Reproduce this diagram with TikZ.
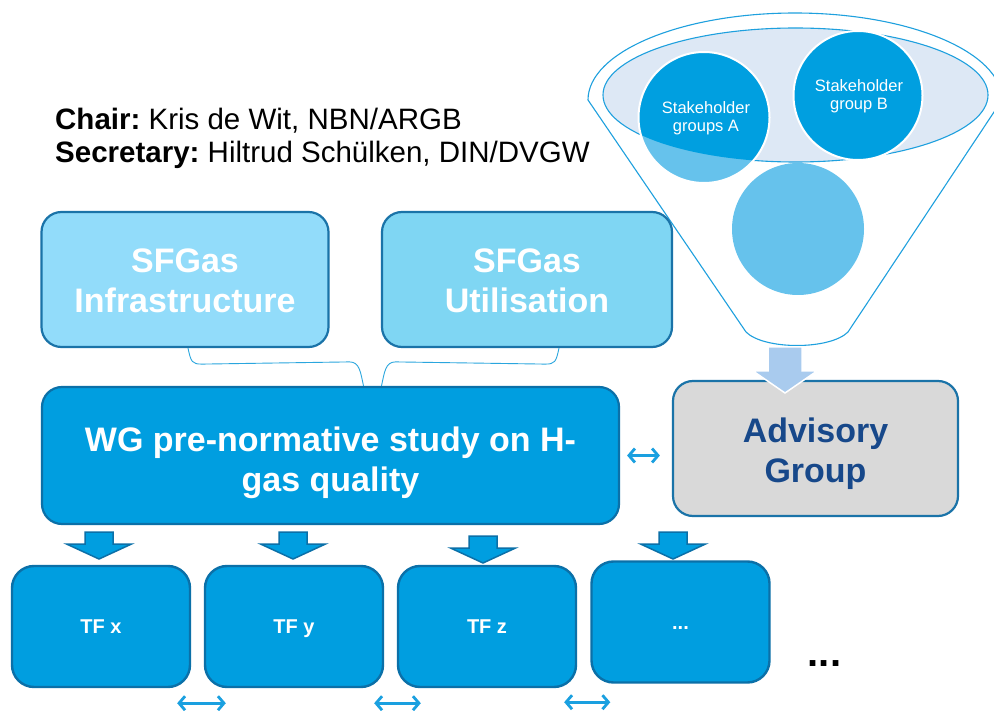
\documentclass[tikz,border=0pt]{standalone}
\usepackage{fontspec}
\setmainfont{Liberation Sans}
\usetikzlibrary{arrows.meta,calc}
\definecolor{infrafill}{HTML}{92DCFA}
\definecolor{utilfill}{HTML}{7FD6F3}
\definecolor{boxedge}{HTML}{1A73A8}
\definecolor{wgfill}{HTML}{009EE0}
\definecolor{wgedge}{HTML}{0B70A8}
\definecolor{advfill}{HTML}{D9D9D9}
\definecolor{advtext}{HTML}{17488A}
\definecolor{funnelc}{HTML}{1EA0DE}
\definecolor{ellfill}{HTML}{DDE8F5}
\definecolor{circdark}{HTML}{009FE0}
\definecolor{circlight}{HTML}{66C2EC}
\definecolor{arrowlight}{HTML}{A9CBEE}
\definecolor{dblc}{HTML}{1AA0E0}
\definecolor{connc}{HTML}{2AA6DE}
\frenchspacing
\begin{document}
\begin{tikzpicture}[x=1pt,y=-1pt,
  box/.style={draw=boxedge, line width=2.2pt, rounded corners=20pt, inner sep=0pt},
  boxtext/.style={inner sep=0pt, align=center, text=white, font=\bfseries\fontsize{34}{40}\selectfont},
  tfbox/.style={draw=wgedge, fill=wgfill, line width=2.4pt, rounded corners=22pt, minimum width=178pt, minimum height=121pt, text=white, text height=14.4pt, text depth=0pt, font=\bfseries\fontsize{20}{24}\selectfont},
  conn/.style={draw=connc, line width=0.9pt},
  dbl/.style={draw=dblc, line width=2.8pt, {Straight Barb[length=6pt,width=14pt]}-{Straight Barb[length=6pt,width=14pt]}},
  tfarrow/.style={fill=wgfill, draw=wgedge, line width=1.5pt, line join=miter},
  stk/.style={text=white, align=center, font=\fontsize{16.5}{18}\selectfont, inner sep=0pt}
]
\useasboundingbox (0,0) rectangle (994,711);
\fill[white] (0,0) rectangle (994,711);

% title
\node[anchor=base west, inner sep=0pt, font=\fontsize{29.5}{34}\selectfont] (chair) at (55,130) {\textbf{Chair:} Kris de Wit, NBN/ARGB};
\node[anchor=base west, inner sep=0pt, font=\fontsize{29.5}{34}\selectfont] (sec) at (55,163) {\textbf{Secretary:} Hiltrud Schülken, DIN/DVGW};

% funnel
\draw[funnelc, fill=white, line width=1.1pt] (588,100) .. controls (588,52) and (681,13) .. (795,13) .. controls (909,13) and (1002,52) .. (1002,100) -- (848,332) .. controls (830,350) and (764,350) .. (746,332) -- cycle;
\draw[funnelc, fill=ellfill, line width=1.1pt] (795.5,95) ellipse[x radius=192.5, y radius=67];
\fill[circlight] (798,229) circle[radius=66];
\fill[circlight] (704,117.5) circle[radius=65.5];
\begin{scope}
  \clip (795.5,95) ellipse[x radius=192.5, y radius=67];
  \fill[circdark] (704,117.5) circle[radius=65.5];
\end{scope}
\fill[circdark] (858,95.5) circle[radius=64.5];
\draw[white, line width=2pt] (704,117.5) circle[radius=65.5];
\draw[white, line width=2pt] (858,95.5) circle[radius=64.5];
\node[stk] (sa) at (706,118) {Stakeholder\\groups A};
\node[stk] (sb) at (859,96) {Stakeholder\\group B};

% boxes
\node[box, fill=infrafill, minimum width=287pt, minimum height=135pt] (infra) at (185,279.5) {};
\node[boxtext] (infrat) at ($(infra.center)+(0,1)$) {SFGas\\Infrastructure};
\node[box, fill=utilfill, minimum width=290pt, minimum height=135pt] (util) at (527,279.5) {};
\node[boxtext] (utilt) at ($(util.center)+(0,1)$) {SFGas\\Utilisation};
\node[box, fill=wgfill, draw=wgedge, minimum width=577pt, minimum height=137pt] (wg) at (330.5,455.5) {};
\node[boxtext] (wgt) at ($(wg.center)+(0,7)$) {WG pre-normative study on H-\\gas quality};
\node[box, fill=advfill, minimum width=285pt, minimum height=135pt] (adv) at (815.5,448.5) {};
\node[boxtext, text=advtext] (advt) at ($(adv.center)+(0,5)$) {Advisory\\Group};

% funnel output arrow
\draw[fill=arrowlight, draw=white, line width=1.5pt, line join=miter] (768,347) -- (802,347) -- (802,371) -- (817,371) -- (785,393) -- (753,371) -- (768,371) -- cycle;

% connectors
\draw[conn] ($(infra.south)+(3,0)$) .. controls +(3,14) and +(-10,0) .. ++(14,16) -- ($(wg.north)+(19,-24)$) .. controls +(10,0) and +(-3,-14) .. ($(wg.north)+(33,0)$);
\draw[conn] ($(util.south)+(32,0)$) .. controls +(-3,14) and +(10,0) .. ++(-14,16) -- ($(wg.north)+(65,-24)$) .. controls +(-10,0) and +(3,-14) .. ($(wg.north)+(51,0)$);

\draw[dbl] ($(wg.east)+(7,0)$) -- ($(wg.east -| adv.west)+(-12,0)$);

% task forces
\node[tfbox] (tfx) at (101,626.5) {TF x};
\node[tfbox] (tfy) at (294,626.5) {TF y};
\node[tfbox] (tfz) at (487,626.5) {TF z};
\node[tfbox] (tfd) at (680.5,622) {...};
\node[inner sep=0pt, font=\bfseries\fontsize{40}{40}\selectfont] (more) at (824.5,664) {...};

\draw[tfarrow] (99,532) ++(-14,0) -- ++(28,0) -- ++(0,12) -- ++(18.5,0) -- ++(-32.5,15) -- ++(-32.5,-15) -- ++(18.5,0) -- cycle;
\draw[tfarrow] (293,532) ++(-14,0) -- ++(28,0) -- ++(0,12) -- ++(18.5,0) -- ++(-32.5,15) -- ++(-32.5,-15) -- ++(18.5,0) -- cycle;
\draw[tfarrow] (483,536) ++(-14,0) -- ++(28,0) -- ++(0,12) -- ++(18.5,0) -- ++(-32.5,15) -- ++(-32.5,-15) -- ++(18.5,0) -- cycle;
\draw[tfarrow] (673,532) ++(-14,0) -- ++(28,0) -- ++(0,12) -- ++(18.5,0) -- ++(-32.5,15) -- ++(-32.5,-15) -- ++(18.5,0) -- cycle;

\draw[dbl] ($(tfx.south east)+(-14,15)$) -- ($(tfy.south west)+(22,15)$);
\draw[dbl] ($(tfy.south east)+(-10,15)$) -- ($(tfz.south west)+(24,15)$);
\draw[dbl] ($(tfz.south east)+(-13,14)$) -- ($(tfz.south east -| tfd.south west)+(20,14)$);
\end{tikzpicture}
\end{document}
